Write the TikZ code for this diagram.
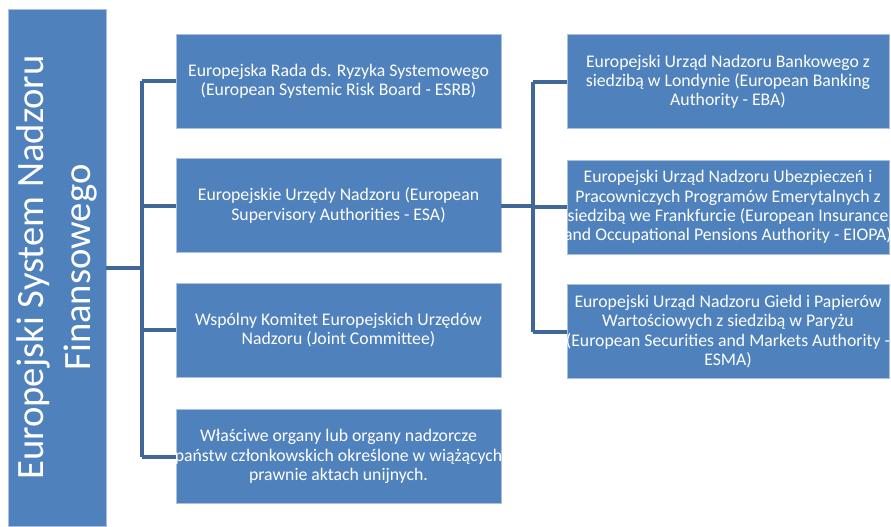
\documentclass[tikz,border=0pt]{standalone}
\usepackage{fontspec}
\setmainfont{Carlito}
\definecolor{boxfill}{HTML}{4F81BD}
\definecolor{boxedge}{HTML}{A9C1DF}
\definecolor{linecol}{HTML}{3F6797}
\begin{document}
\begin{tikzpicture}[x=0.75pt,y=-0.75pt,
  box/.style={rectangle,fill=boxfill,draw=boxedge,line width=0.6pt,inner sep=0pt},
  txt/.style={text=white,align=center,inner sep=0pt,font=\fontsize{13.3}{14.4}\selectfont},
  mbox/.style={box,minimum width=243.75pt,minimum height=70.5pt},
  rbox/.style={box,minimum width=241.5pt,minimum height=70.5pt},
  conn/.style={draw=linecol,line width=3pt}]
\useasboundingbox (0,0) rectangle (891,526);
\node[box,txt,minimum width=387.75pt,minimum height=73.5pt,rotate=90,
  font=\fontsize{29}{35}\selectfont] (L) at (57,267.5)
  {Europejski System Nadzoru\\Finansowego};
\node[mbox] (m1) at (338.5,81) {};
\node[mbox] (m2) at (338.5,205.5) {};
\node[mbox] (m3) at (338.5,330) {};
\node[mbox] (m4) at (338.5,456.5) {};
\node[rbox] (r1) at (728,81.5) {};
\node[rbox] (r2) at (728,207) {};
\node[rbox] (r3) at (728,331.5) {};
\node[txt] (m1t) at (m1.center)
  {Europejska Rada ds. Ryzyka Systemowego\\(European Systemic Risk Board - ESRB)};
\node[txt] (m2t) at (m2.center)
  {Europejskie Urzędy Nadzoru (European\\Supervisory Authorities - ESA)};
\node[txt] (m3t) at (m3.center)
  {Wspólny Komitet Europejskich Urzędów\\Nadzoru (Joint Committee)};
\node[txt] (m4t) at (m4.center)
  {Właściwe organy lub organy nadzorcze\\państw członkowskich określone w wiążących\\prawnie aktach unijnych.};
\node[txt] (r1t) at (r1.center)
  {Europejski Urząd Nadzoru Bankowego z\\siedzibą w Londynie (European Banking\\Authority - EBA)};
\node[txt] (r2t) at (r2.center)
  {Europejski Urząd Nadzoru Ubezpieczeń i\\Pracowniczych Programów Emerytalnych z\\siedzibą we Frankfurcie (European Insurance\\and Occupational Pensions Authority - EIOPA)};
\node[txt] (r3t) at (r3.center)
  {Europejski Urząd Nadzoru Giełd i Papierów\\Wartościowych z siedzibą w Paryżu\\(European Securities and Markets Authority -\\ESMA)};
\coordinate (j1) at (142,267.5);
\coordinate (j2) at (533,205.5);
\draw[conn] (L.south) -- (j1);
\draw[conn] (j1 |- m1.west) -- (j1 |- m4.west);
\foreach \m in {m1,m2,m3,m4} \draw[conn] (j1 |- \m.west) -- (\m.west);
\draw[conn] (m2.east) -- (j2);
\draw[conn] (j2 |- r1.west) -- (j2 |- r3.west);
\foreach \r in {r1,r2,r3} \draw[conn] (j2 |- \r.west) -- (\r.west);
\end{tikzpicture}
\end{document}
